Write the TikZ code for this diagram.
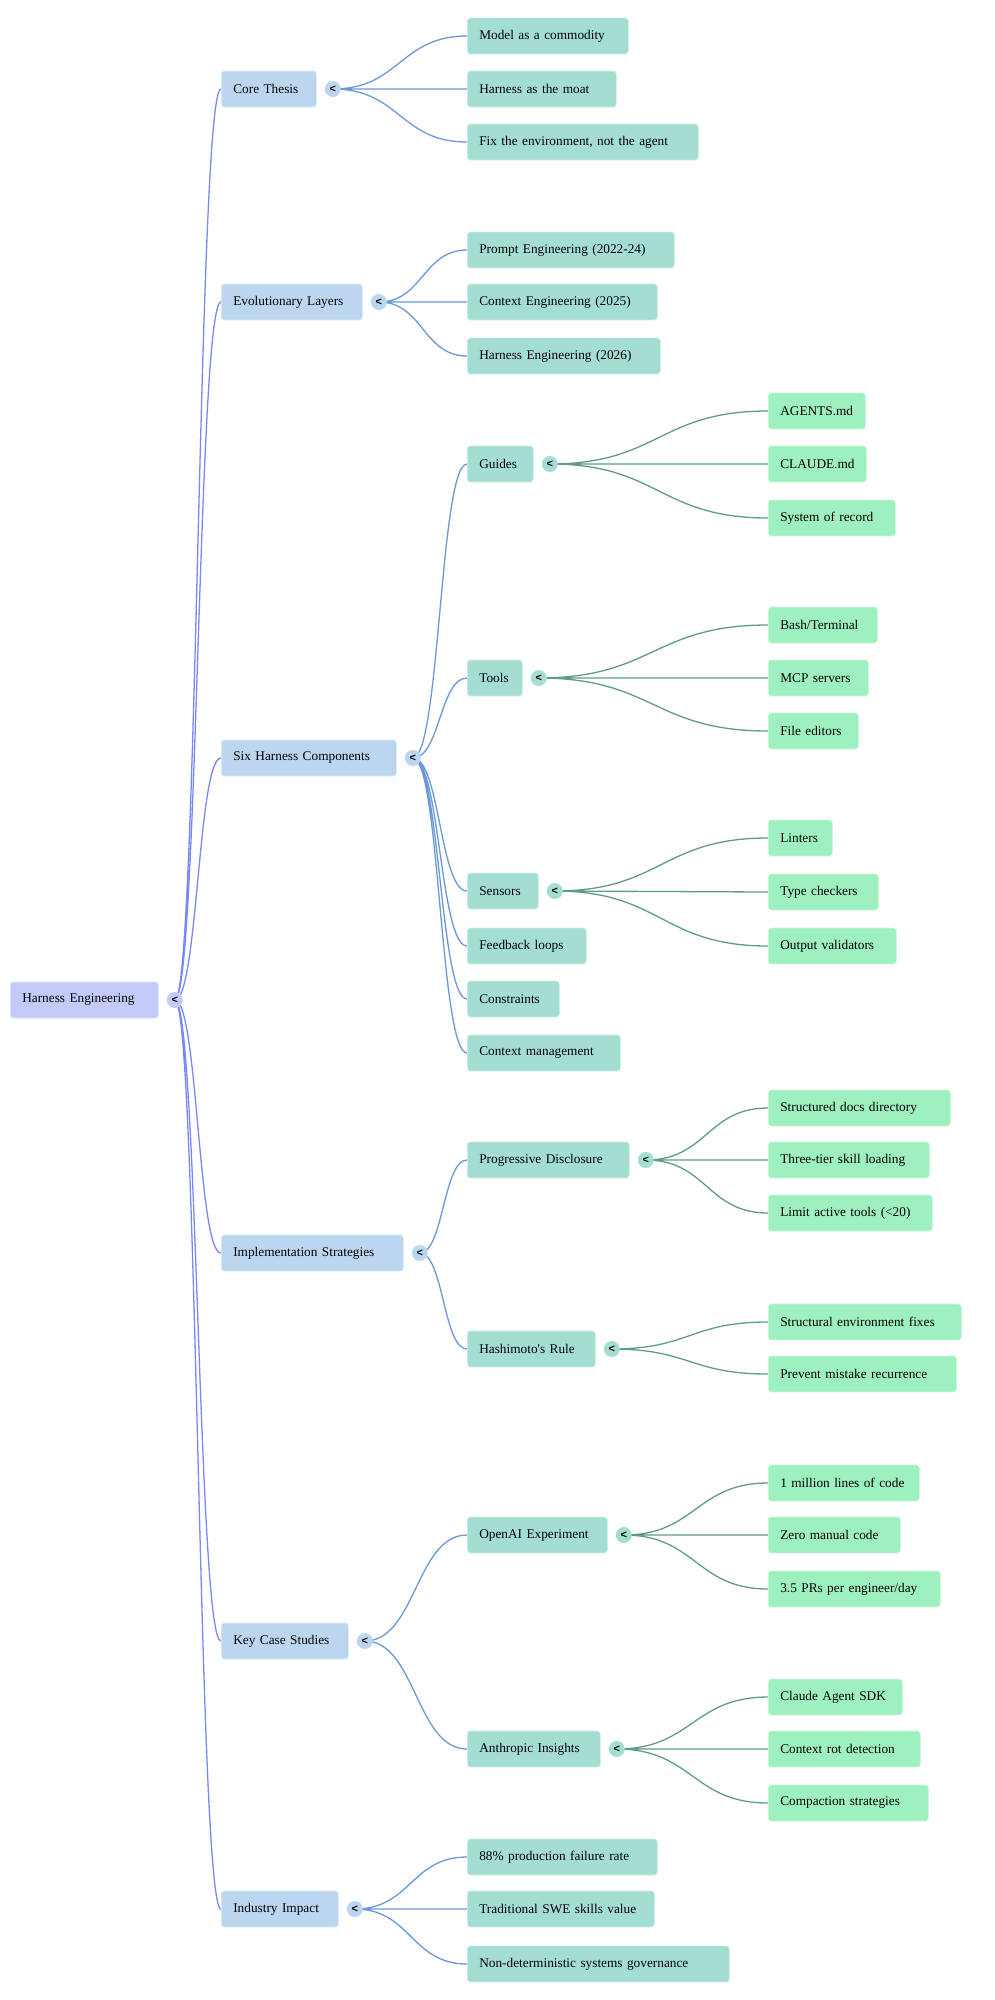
\documentclass[tikz,border=0pt]{standalone}
\usepackage{fontspec}
\setmainfont{Liberation Serif}
\newfontfamily\markfont{Liberation Sans}
\usetikzlibrary{positioning,calc,backgrounds}
\definecolor{rootfill}{HTML}{C4CAFA}
\definecolor{onefill}{HTML}{BDD6F0}
\definecolor{twofill}{HTML}{A4DED3}
\definecolor{threefill}{HTML}{9EF0C0}
\definecolor{rootline}{HTML}{7A88F5}
\definecolor{oneline}{HTML}{6A98D8}
\definecolor{twoline}{HTML}{5E9C88}
\tikzset{
  topic/.style={
    rectangle,
    anchor=west,
    rounded corners=3pt,
    minimum height=36pt,
    inner xsep=12pt,
    inner ysep=0pt,
    align=left,
    line width=0.6pt,
    font=\fontsize{13.3}{16}\selectfont
  },
  rootbox/.style={topic,fill=rootfill,draw=rootfill!55!white},
  onebox/.style={topic,fill=onefill,draw=onefill!55!white},
  twobox/.style={topic,fill=twofill,draw=twofill!55!white},
  threebox/.style={topic,fill=threefill,draw=threefill!55!white},
  fold/.style={
    circle,
    fill=#1,
    inner sep=0pt,
    minimum size=16pt,
    font=\markfont\bfseries\fontsize{11}{11}\selectfont
  },
  link/.style={
    draw=#1,
    line width=1.3pt,
    to path={.. controls ($(\tikztostart)!0.5!(\tikztotarget|-\tikztostart)$)
      and ($(\tikztotarget)!0.5!(\tikztostart|-\tikztotarget)$) .. (\tikztotarget)}
  }
}
\begin{document}
\begin{tikzpicture}[x=1pt,y=-1pt]
  \useasboundingbox (0,0) rectangle (994,2000);

  \node[rootbox,text width=124pt] (root) at (10,1000) {Harness Engineering};
  \node[fold=rootfill,right=8pt of root] (mroot) {<};

  \node[onebox,text width=71pt] (core) at (221,89) {Core Thesis};
  \node[onebox,text width=117pt] (evol) at (221,302) {Evolutionary Layers};
  \node[onebox,text width=151pt] (six) at (221,758) {Six Harness Components};
  \node[onebox,text width=158pt] (impl) at (221,1253) {Implementation Strategies};
  \node[onebox,text width=103pt] (cases) at (221,1641) {Key Case Studies};
  \node[onebox,text width=93pt] (impact) at (221,1909) {Industry Impact};
  \node[fold=onefill,right=8pt of core] (mcore) {<};
  \node[fold=onefill,right=8pt of evol] (mevol) {<};
  \node[fold=onefill,right=8pt of six] (msix) {<};
  \node[fold=onefill,right=8pt of impl] (mimpl) {<};
  \node[fold=onefill,right=8pt of cases] (mcases) {<};
  \node[fold=onefill,right=8pt of impact] (mimpact) {<};

  \node[twobox,text width=137pt] (model) at (467,36) {Model as a commodity};
  \node[twobox,text width=125pt] (moat) at (467,89) {Harness as the moat};
  \node[twobox,text width=207pt] (fixenv) at (467,142) {Fix the environment, not the agent};
  \node[twobox,text width=183pt] (prompt) at (467,250) {Prompt Engineering (2022-24)};
  \node[twobox,text width=166pt] (context) at (467,302) {Context Engineering (2025)};
  \node[twobox,text width=169pt] (harnesseng) at (467,356) {Harness Engineering (2026)};
  \node[twobox,text width=42pt] (guides) at (467,464) {Guides};
  \node[twobox,text width=31pt] (tools) at (467,678) {Tools};
  \node[twobox,text width=47pt] (sensors) at (467,891) {Sensors};
  \node[twobox,text width=95pt] (feedback) at (467,946) {Feedback loops};
  \node[twobox,text width=68pt] (constraints) at (467,999) {Constraints};
  \node[twobox,text width=129pt] (ctxmgmt) at (467,1053) {Context management};
  \node[twobox,text width=138pt] (progressive) at (467,1160) {Progressive Disclosure};
  \node[twobox,text width=104pt] (hashimoto) at (467,1349) {Hashimoto\textquotesingle s Rule};
  \node[twobox,text width=116pt] (openai) at (467,1535) {OpenAI Experiment};
  \node[twobox,text width=109pt] (anthropic) at (467,1749) {Anthropic Insights};
  \node[twobox,text width=166pt] (failure) at (467,1857) {88\% production failure rate};
  \node[twobox,text width=163pt] (swe) at (467,1909) {Traditional SWE skills value};
  \node[twobox,text width=238pt] (nondet) at (467,1964) {Non-deterministic systems governance};
  \node[fold=twofill,right=8pt of guides] (mguides) {<};
  \node[fold=twofill,right=8pt of tools] (mtools) {<};
  \node[fold=twofill,right=8pt of sensors] (msensors) {<};
  \node[fold=twofill,right=8pt of progressive] (mprog) {<};
  \node[fold=twofill,right=8pt of hashimoto] (mhash) {<};
  \node[fold=twofill,right=8pt of openai] (mopenai) {<};
  \node[fold=twofill,right=8pt of anthropic] (manthropic) {<};

  \node[threebox,text width=73pt] (agents) at (768,411) {AGENTS.md};
  \node[threebox,text width=74pt] (claude) at (768,464) {CLAUDE.md};
  \node[threebox,text width=103pt] (sysrec) at (768,518) {System of record};
  \node[threebox,text width=85pt] (bash) at (768,625) {Bash/Terminal};
  \node[threebox,text width=76pt] (mcp) at (768,678) {MCP servers};
  \node[threebox,text width=66pt] (fileed) at (768,731) {File editors};
  \node[threebox,text width=40pt] (linters) at (768,838) {Linters};
  \node[threebox,text width=86pt] (typecheck) at (768,892) {Type checkers};
  \node[threebox,text width=104pt] (outval) at (768,946) {Output validators};
  \node[threebox,text width=158pt] (structured) at (768,1108) {Structured docs directory};
  \node[threebox,text width=137pt] (threetier) at (768,1160) {Three-tier skill loading};
  \node[threebox,text width=140pt] (limit) at (768,1213) {Limit active tools (<20)};
  \node[threebox,text width=169pt] (structural) at (768,1322) {Structural environment fixes};
  \node[threebox,text width=164pt] (prevent) at (768,1374) {Prevent mistake recurrence};
  \node[threebox,text width=127pt] (million) at (768,1483) {1 million lines of code};
  \node[threebox,text width=108pt] (zero) at (768,1535) {Zero manual code};
  \node[threebox,text width=148pt] (prs) at (768,1589) {3.5 PRs per engineer/day};
  \node[threebox,text width=110pt] (claudesdk) at (768,1697) {Claude Agent SDK};
  \node[threebox,text width=128pt] (ctxrot) at (768,1749) {Context rot detection};
  \node[threebox,text width=136pt] (compaction) at (768,1803) {Compaction strategies};

  \begin{scope}[on background layer]
    \draw[link=rootline] (mroot.center) to (core.west) (mroot.center) to (evol.west)
      (mroot.center) to (six.west) (mroot.center) to (impl.west)
      (mroot.center) to (cases.west) (mroot.center) to (impact.west);
    \draw[link=oneline] (mcore.center) to (model.west) (mcore.center) to (moat.west)
      (mcore.center) to (fixenv.west);
    \draw[link=oneline] (mevol.center) to (prompt.west) (mevol.center) to (context.west)
      (mevol.center) to (harnesseng.west);
    \draw[link=oneline] (msix.center) to (guides.west) (msix.center) to (tools.west)
      (msix.center) to (sensors.west) (msix.center) to (feedback.west)
      (msix.center) to (constraints.west) (msix.center) to (ctxmgmt.west);
    \draw[link=oneline] (mimpl.center) to (progressive.west) (mimpl.center) to (hashimoto.west);
    \draw[link=oneline] (mcases.center) to (openai.west) (mcases.center) to (anthropic.west);
    \draw[link=oneline] (mimpact.center) to (failure.west) (mimpact.center) to (swe.west)
      (mimpact.center) to (nondet.west);
    \draw[link=twoline] (mguides.center) to (agents.west) (mguides.center) to (claude.west)
      (mguides.center) to (sysrec.west);
    \draw[link=twoline] (mtools.center) to (bash.west) (mtools.center) to (mcp.west)
      (mtools.center) to (fileed.west);
    \draw[link=twoline] (msensors.center) to (linters.west) (msensors.center) to (typecheck.west)
      (msensors.center) to (outval.west);
    \draw[link=twoline] (mprog.center) to (structured.west) (mprog.center) to (threetier.west)
      (mprog.center) to (limit.west);
    \draw[link=twoline] (mhash.center) to (structural.west) (mhash.center) to (prevent.west);
    \draw[link=twoline] (mopenai.center) to (million.west) (mopenai.center) to (zero.west)
      (mopenai.center) to (prs.west);
    \draw[link=twoline] (manthropic.center) to (claudesdk.west) (manthropic.center) to (ctxrot.west)
      (manthropic.center) to (compaction.west);
  \end{scope}
\end{tikzpicture}
\end{document}
